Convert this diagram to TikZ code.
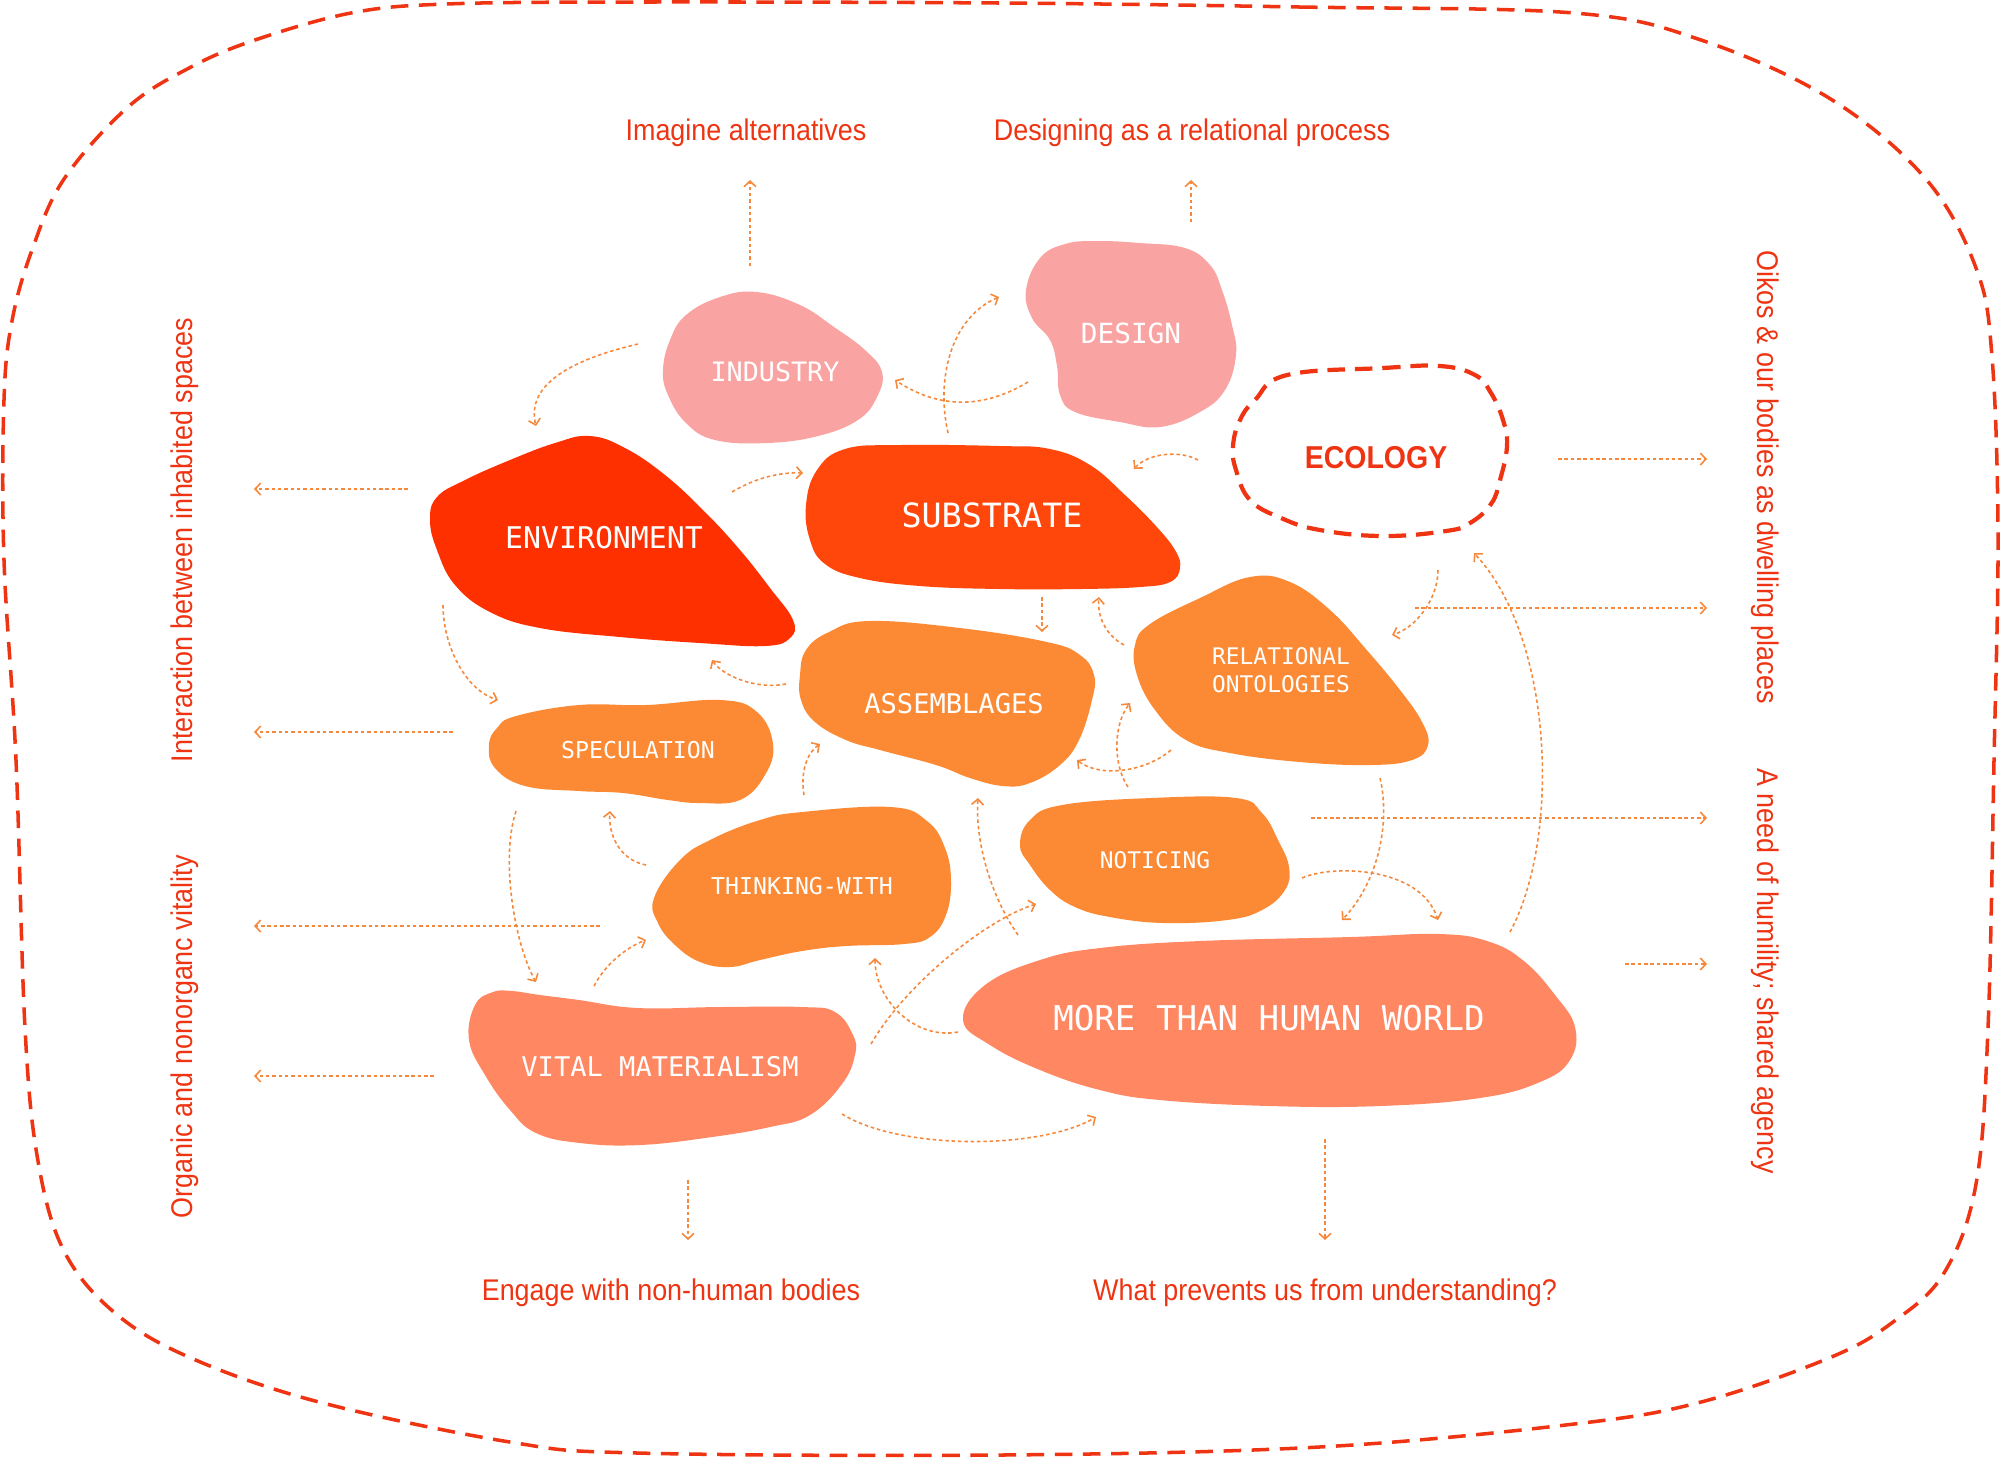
\documentclass[tikz,border=0pt]{standalone}
\usepackage{fontspec}
\usetikzlibrary{arrows.meta}
\newfontfamily\monof{DejaVu Sans Mono}
\newfontfamily\sansf[FakeStretch=0.9]{Liberation Sans}
\definecolor{redline}{RGB}{238,52,18}
\definecolor{envc}{RGB}{255,48,0}
\definecolor{subc}{RGB}{255,71,12}
\definecolor{pinkc}{RGB}{249,164,162}
\definecolor{orc}{RGB}{252,138,52}
\definecolor{salc}{RGB}{255,135,98}
\definecolor{arrc}{RGB}{245,136,58}
\tikzset{
  lab/.style={text=white, inner sep=0pt, align=center, font=\monof\fontsize{#1}{#1}\selectfont},
  conn/.style={draw=arrc, line width=0.45pt, dash pattern=on 1pt off 0.8pt, -{Straight Barb[length=1.6pt,width=3.4pt]}},
  side/.style={text=redline, inner sep=0pt, anchor=base, font=\sansf\fontsize{8.5}{10}\selectfont},
  blobline/.style={smooth cycle, tension=0.7},
}
\begin{document}
\begin{tikzpicture}[x=0.01cm, y=-0.01cm]
\useasboundingbox (0,0) rectangle (2000,1459);

% outer dashed boundary
\draw[redline, line width=1pt, dash pattern=on 5pt off 3pt]
  plot[smooth cycle, tension=0.6] coordinates {
  (1000,3) (1300,7) (1574,13) (1701,40) (1829,98) (1925,178) (1976,268) (1992,357)
  (1998,536) (1994,760) (1988,1028) (1976,1184) (1944,1273) (1893,1322) (1829,1358)
  (1701,1402) (1574,1424) (1319,1447) (1000,1455) (638,1453) (510,1442) (319,1402)
  (191,1358) (115,1313) (64,1251) (38,1161) (25,1028) (16,760) (4,560) (4,400) (12,321)
  (32,250) (64,179) (128,107) (191,67) (255,40) (351,13) (446,4) (638,2)};

% blobs
\fill[pinkc] plot[blobline] coordinates {(757,292) (800,305) (834,327) (865,350) (882,372) (877,397) (858,420) (818,436) (767,443) (715,440) (686,423) (668,395) (663,370) (670,340) (686,315) (720,297)};
\fill[pinkc] plot[blobline] coordinates {(1096,241) (1140,243) (1185,248) (1210,265) (1222,290) (1232,325) (1236,355) (1225,390) (1200,412) (1160,427) (1120,422) (1075,412) (1060,395) (1057,366) (1050,340) (1032,318) (1026,290) (1040,258) (1065,244)};
\fill[envc] plot[blobline] coordinates {(590,436) (625,448) (665,475) (705,512) (740,550) (770,588) (793,620) (790,638) (765,646) (700,643) (620,637) (540,628) (490,612) (455,585) (437,550) (430,520) (437,497) (465,480) (510,460) (555,443)};
\fill[subc] plot[blobline] coordinates {(845,449) (900,445) (1000,446) (1050,449) (1090,465) (1125,495) (1155,525) (1175,550) (1180,568) (1170,582) (1140,587) (1080,589) (1000,589) (920,586) (860,578) (825,564) (810,540) (806,505) (817,470)};
\draw[redline, line width=1.2pt, dash pattern=on 5pt off 2.8pt] plot[blobline] coordinates {(1287,375) (1383,368) (1440,366) (1475,375) (1491,393) (1503,420) (1507,446) (1500,480) (1491,504) (1470,523) (1446,531) (1383,536) (1320,530) (1281,518) (1250,500) (1236,470) (1233,446) (1240,420) (1255,400)};
\fill[orc] plot[blobline] coordinates {(829,632) (869,621) (960,628) (1047,642) (1080,655) (1094,675) (1092,700) (1079,740) (1060,765) (1030,783) (1003,786) (970,778) (936,765) (880,750) (846,740) (815,722) (801,700) (800,675) (806,650)};
\fill[orc] plot[blobline] coordinates {(1250,577) (1290,582) (1330,610) (1365,648) (1400,690) (1422,722) (1428,745) (1412,760) (1370,765) (1300,762) (1230,753) (1186,740) (1155,710) (1137,675) (1135,645) (1150,624) (1200,598)};
\fill[orc] plot[blobline] coordinates {(516,716) (579,705) (646,705) (721,700) (757,712) (773,744) (765,775) (740,800) (700,803) (668,800) (623,793) (579,791) (525,786) (495,768) (489,745) (497,728)};
\fill[orc] plot[blobline] coordinates {(654,898) (680,860) (712,839) (760,820) (802,812) (891,807) (927,821) (945,848) (951,881) (946,915) (930,937) (904,944) (846,946) (802,951) (760,960) (730,967) (700,962) (675,945) (658,923)};
\fill[orc] plot[blobline] coordinates {(1062,805) (1151,798) (1236,798) (1262,813) (1278,840) (1289,867) (1285,890) (1262,910) (1227,920) (1164,923) (1110,917) (1075,907) (1050,890) (1030,865) (1020,845) (1030,820)};
\fill[salc] plot[blobline] coordinates {(963,1020) (985,985) (1040,960) (1100,948) (1200,941) (1350,937) (1440,934) (1490,942) (1525,962) (1555,995) (1575,1027) (1570,1060) (1540,1082) (1480,1098) (1380,1106) (1270,1106) (1160,1100) (1100,1090) (1040,1070) (990,1045)};
\fill[salc] plot[blobline] coordinates {(512,991) (540,995) (579,1000) (638,1008) (720,1007) (802,1007) (835,1012) (853,1035) (855,1055) (842,1084) (810,1115) (770,1127) (712,1137) (640,1145) (580,1143) (536,1133) (510,1110) (485,1075) (469,1040) (475,1005) (493,992)};

% labels
\node[lab=7.6] (ind) at (775,372) {INDUSTRY};
\node[lab=7.9] (des) at (1131,333) {DESIGN};
\node[lab=8.5] (env) at (604,538) {ENVIRONMENT};
\node[lab=9.5] (sub) at (992,515) {SUBSTRATE};
\node[inner sep=0pt, text=redline, font=\sansf\bfseries\fontsize{9}{9}\selectfont] (eco) at (1376,458) {ECOLOGY};
\node[lab=7.7] (ass) at (954,704) {ASSEMBLAGES};
\node[lab=6.5, font=\monof\fontsize{6.5}{8}\selectfont] (rel) at (1281,670) {RELATIONAL\\ONTOLOGIES};
\node[lab=6.6] (spe) at (638,750) {SPECULATION};
\node[lab=6.6] (thi) at (802,886) {THINKING-WITH};
\node[lab=6.5] (not) at (1155,860) {NOTICING};
\node[lab=9.7] (mth) at (1269,1018) {MORE THAN HUMAN WORLD};
\node[lab=7.7] (vit) at (660,1067) {VITAL MATERIALISM};

% side texts
\node[side] (t1) at (746,140) {Imagine alternatives};
\node[side] (t2) at (1192,140) {Designing as a relational process};
\node[side] (t3) at (671,1300) {Engage with non-human bodies};
\node[side] (t4) at (1325,1300) {What prevents us from understanding?};
\node[side, rotate=90] (t5) at (192,540) {Interaction between inhabited spaces};
\node[side, rotate=90] (t6) at (192,1037) {Organic and nonorganc vitality};
\node[side, rotate=-90] (t7) at (1757,477) {Oikos \& our bodies as dwelling places};
\node[side, rotate=-90] (t8) at (1757,971) {A need of humility; shared agency};

% outward straight arrows
\coordinate (o1s) at (750,266); \coordinate (o1e) at (750,180);
\coordinate (o2s) at (1191,222); \coordinate (o2e) at (1191,180);
\coordinate (o3s) at (408,489); \coordinate (o3e) at (254,489);
\coordinate (o4s) at (453,732); \coordinate (o4e) at (254,732);
\coordinate (o5s) at (600,926); \coordinate (o5e) at (254,926);
\coordinate (o6s) at (434,1076); \coordinate (o6e) at (254,1076);
\coordinate (o7s) at (1558,459); \coordinate (o7e) at (1707,459);
\coordinate (o8s) at (1415,608); \coordinate (o8e) at (1707,608);
\coordinate (o9s) at (1311,818); \coordinate (o9e) at (1707,818);
\coordinate (o10s) at (1625,964); \coordinate (o10e) at (1707,964);
\coordinate (o11s) at (688,1180); \coordinate (o11e) at (688,1240);
\coordinate (o12s) at (1325,1139); \coordinate (o12e) at (1325,1240);
\foreach \i in {1,...,12} {\draw[conn] (o\i s) -- (o\i e);}

% curved connectors
\coordinate (as) at (638,344); \coordinate (ae) at (536,426);
\draw[conn] (as) .. controls (561,362) and (527,389) .. (ae);
\coordinate (bs) at (1028,382); \coordinate (be) at (895,380);
\draw[conn] (bs) .. controls (983,409) and (939,409) .. (be);
\coordinate (cs) at (948,433); \coordinate (ce) at (999,297);
\draw[conn] (cs) .. controls (936,380) and (950,318) .. (ce);
\coordinate (ds) at (732,492); \coordinate (de) at (803,473);
\draw[conn] (ds) .. controls (755,478) and (780,472) .. (de);
\coordinate (es) at (1198,460); \coordinate (ee) at (1134,469);
\draw[conn] (es) .. controls (1180,450) and (1148,453) .. (ee);
\coordinate (fs) at (1042,597); \coordinate (fe) at (1042,632);
\draw[conn] (fs) -- (fe);
\coordinate (gs) at (1124,645); \coordinate (ge) at (1099,597);
\draw[conn] (gs) .. controls (1105,635) and (1097,615) .. (ge);
\coordinate (hs) at (1438,570); \coordinate (he) at (1392,635);
\draw[conn] (hs) .. controls (1438,600) and (1415,628) .. (he);
\coordinate (is) at (1510,932); \coordinate (ie) at (1474,553);
\draw[conn] (is) .. controls (1560,840) and (1555,640) .. (ie);
\coordinate (js) at (1380,778); \coordinate (je) at (1342,920);
\draw[conn] (js) .. controls (1390,820) and (1380,880) .. (je);
\coordinate (ks) at (1302,878); \coordinate (ke) at (1438,920);
\draw[conn] (ks) .. controls (1330,865) and (1420,865) .. (ke);
\coordinate (l1s) at (1171,750); \coordinate (l1e) at (1077,760);
\draw[conn] (l1s) .. controls (1145,772) and (1100,778) .. (l1e);
\coordinate (l2s) at (1128,787); \coordinate (l2e) at (1130,703);
\draw[conn] (l2s) .. controls (1113,765) and (1113,725) .. (l2e);
\coordinate (ms) at (786,684); \coordinate (me) at (712,660);
\draw[conn] (ms) .. controls (755,690) and (722,675) .. (me);
\coordinate (ns) at (443,605); \coordinate (ne) at (498,700);
\draw[conn] (ns) .. controls (443,645) and (465,690) .. (ne);
\coordinate (os) at (646,865); \coordinate (oe) at (610,811);
\draw[conn] (os) .. controls (620,860) and (608,835) .. (oe);
\coordinate (ps) at (804,795); \coordinate (pe) at (820,744);
\draw[conn] (ps) .. controls (800,770) and (808,752) .. (pe);
\coordinate (qs) at (516,811); \coordinate (qe) at (536,982);
\draw[conn] (qs) .. controls (500,860) and (515,945) .. (qe);
\coordinate (rs) at (594,986); \coordinate (re) at (646,940);
\draw[conn] (rs) .. controls (605,965) and (625,948) .. (re);
\coordinate (ss) at (958,1032); \coordinate (se) at (875,958);
\draw[conn] (ss) .. controls (915,1040) and (875,1000) .. (se);
\coordinate (ts) at (871,1044); \coordinate (te) at (1036,904);
\draw[conn] (ts) .. controls (905,985) and (985,920) .. (te);
\coordinate (us) at (1018,935); \coordinate (ue) at (978,798);
\draw[conn] (us) .. controls (990,895) and (975,840) .. (ue);
\coordinate (vs) at (842,1114); \coordinate (ve) at (1096,1117);
\draw[conn] (vs) .. controls (900,1150) and (1040,1150) .. (ve);
\end{tikzpicture}
\end{document}
